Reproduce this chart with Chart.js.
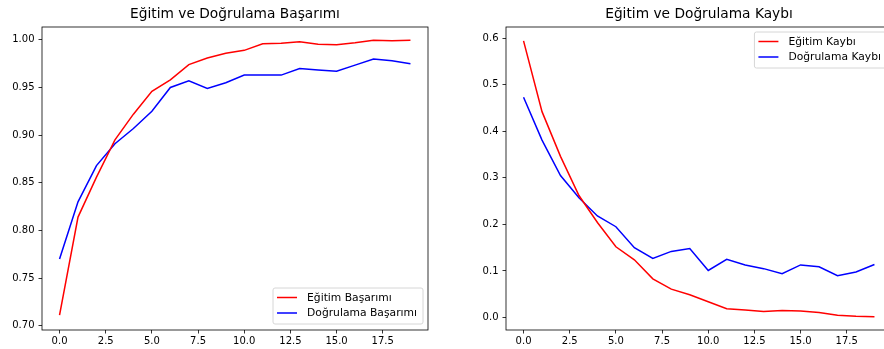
<!DOCTYPE html>
<html>
<head>
<meta charset="utf-8">
<script src="https://cdn.jsdelivr.net/npm/chart.js@4.4.0/dist/chart.umd.min.js"></script>
<style>
  html, body { margin: 0; padding: 0; background: #fff; overflow: hidden; width: 884px; height: 349px; }
  #left, #right { position: absolute; top: 0; }
  #left { left: 0; }
  #right { left: 442px; }
</style>
</head>
<body>
<canvas id="left" width="442" height="349"></canvas>
<canvas id="right" width="460" height="349"></canvas>
<script>
const epochs = [0,1,2,3,4,5,6,7,8,9,10,11,12,13,14,15,16,17,18,19];
const trainAcc = [0.711,0.814,0.856,0.895,0.922,0.946,0.958,0.974,0.981,0.986,0.989,0.996,0.9965,0.998,0.9955,0.995,0.997,0.9995,0.999,0.9995];
const valAcc = [0.770,0.830,0.868,0.891,0.907,0.925,0.950,0.957,0.949,0.955,0.963,0.963,0.963,0.970,0.9685,0.967,0.9735,0.980,0.978,0.975];
const trainLoss = [0.594,0.442,0.346,0.262,0.204,0.152,0.124,0.083,0.061,0.049,0.034,0.019,0.016,0.013,0.015,0.014,0.011,0.005,0.003,0.002];
const valLoss = [0.473,0.381,0.305,0.257,0.218,0.195,0.150,0.127,0.142,0.148,0.101,0.125,0.113,0.105,0.094,0.113,0.109,0.090,0.098,0.114];
const xTicks = [0,2.5,5,7.5,10,12.5,15,17.5];
const accTicks = [0.70,0.75,0.80,0.85,0.90,0.95,1.00];
const lossTicks = [0.0,0.1,0.2,0.3,0.4,0.5,0.6];

const FONT = '"DejaVu Sans", sans-serif';

// full box round the plot area, like matplotlib spines
const frame = {
  id: 'frame',
  afterDatasetsDraw(chart) {
    const { ctx, chartArea: a } = chart;
    ctx.save();
    ctx.strokeStyle = '#000';
    ctx.lineWidth = 0.8;
    ctx.strokeRect(a.left, a.top, a.right - a.left, a.bottom - a.top);
    ctx.restore();
  }
};

// legend inside the axes
const boxLegend = {
  id: 'boxLegend',
  afterDraw(chart, args, opts) {
    const { ctx, chartArea: a } = chart;
    const sets = chart.data.datasets;
    ctx.save();
    ctx.font = '10.75px ' + FONT;
    const tw = Math.max(...sets.map(d => ctx.measureText(d.label).width));
    const w = 34 + tw + 6, h = 6 + sets.length * 15;
    const x = a.right - 5 - w;
    const y = opts.pos === 'upper' ? a.top + 5 : a.bottom - 6 - h;
    ctx.beginPath();
    ctx.roundRect(x, y, w, h, 2);
    ctx.fillStyle = 'rgba(255,255,255,0.8)';
    ctx.fill();
    ctx.strokeStyle = '#d6d6d6';
    ctx.lineWidth = 1;
    ctx.stroke();
    sets.forEach((d, i) => {
      const ry = y + 9.5 + i * 15.5;
      ctx.beginPath();
      ctx.moveTo(x + 4, ry);
      ctx.lineTo(x + 24, ry);
      ctx.strokeStyle = d.borderColor;
      ctx.lineWidth = 1.5;
      ctx.stroke();
      ctx.fillStyle = '#000';
      ctx.textBaseline = 'middle';
      ctx.fillText(d.label, x + 34, ry + 0.5);
    });
    ctx.restore();
  }
};

function pts(ys) {
  return ys.map((v, i) => ({ x: epochs[i], y: v }));
}

function makeChart(id, title, sets, yTicks, yMin, yMax, yDigits, yWidth, padRight, legendPos) {
  return new Chart(document.getElementById(id), {
    type: 'line',
    data: {
      datasets: sets.map(s => ({
        label: s.label, data: pts(s.data), borderColor: s.color,
        borderWidth: 1.5, pointRadius: 0, tension: 0, fill: false
      }))
    },
    options: {
      responsive: false,
      animation: false,
      devicePixelRatio: 1,
      layout: { padding: { top: 0, left: 0, right: padRight, bottom: 0 } },
      plugins: {
        legend: { display: false },
        tooltip: { enabled: false },
        title: {
          display: true, text: title, fullSize: false, color: '#000',
          font: { family: FONT, size: 13.75, weight: 'normal', lineHeight: 1.2 },
          padding: { top: 6.5, bottom: 4 }
        },
        boxLegend: { pos: legendPos }
      },
      scales: {
        x: {
          type: 'linear', min: -0.95, max: 19.95,
          border: { display: false },
          grid: { drawOnChartArea: false, drawTicks: true, tickLength: 3.5, color: '#000', lineWidth: 0.8 },
          afterBuildTicks: sc => { sc.ticks = xTicks.map(v => ({ value: v })); },
          afterFit: sc => { sc.height = 19; },
          ticks: {
            color: '#000', font: { family: FONT, size: 10 }, padding: 2, maxRotation: 0,
            callback: v => v.toFixed(1)
          }
        },
        y: {
          type: 'linear', min: yMin, max: yMax,
          border: { display: false },
          grid: { drawOnChartArea: false, drawTicks: true, tickLength: 3.5, color: '#000', lineWidth: 0.8 },
          afterBuildTicks: sc => { sc.ticks = yTicks.map(v => ({ value: v })); },
          afterFit: sc => { sc.width = yWidth; },
          ticks: {
            color: '#000', font: { family: FONT, size: 10 }, padding: 4,
            callback: v => v.toFixed(yDigits)
          }
        }
      }
    },
    plugins: [frame, boxLegend]
  });
}

makeChart('left', 'Eğitim ve Doğrulama Başarımı', [
  { label: 'Eğitim Başarımı', data: trainAcc, color: '#ff0000' },
  { label: 'Doğrulama Başarımı', data: valAcc, color: '#0000ff' }
], accTicks, 0.6955, 1.0135, 2, 42, 14, 'lower');

makeChart('right', 'Eğitim ve Doğrulama Kaybı', [
  { label: 'Eğitim Kaybı', data: trainLoss, color: '#ff0000' },
  { label: 'Doğrulama Kaybı', data: valLoss, color: '#0000ff' }
], lossTicks, -0.0267, 0.6237, 1, 64, 10, 'upper');
</script>
</body>
</html>
